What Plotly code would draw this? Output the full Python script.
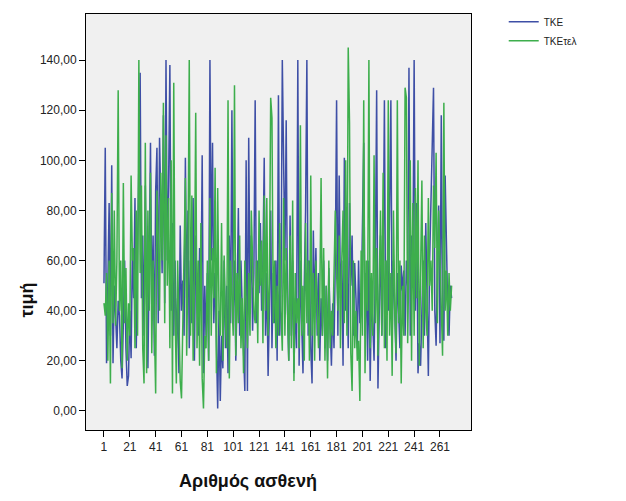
import plotly.graph_objects as go

tke = [
    51, 105, 19, 45, 83, 30, 98, 19, 50, 38,
    25, 44, 38, 20, 13, 35, 60, 25, 10, 14,
    40, 21, 65, 45, 85, 25, 60, 100, 135, 45,
    70, 30, 90, 45, 17, 60, 107, 40, 70, 22,
    88, 105, 35, 109, 75, 55, 118, 43, 140, 60,
    90, 138, 40, 75, 30, 60, 25, 45, 15, 74,
    40, 52, 30, 101, 45, 80, 25, 60, 35, 85,
    20, 70, 45, 30, 65, 40, 102, 15, 50, 30,
    55, 20, 140, 60, 107, 35, 55, 20, 1, 40,
    4, 30, 17, 60, 25, 50, 15, 70, 35, 120,
    40, 60, 20, 45, 81, 30, 60, 40, 25, 8,
    100, 8, 109, 45, 70, 32, 55, 124, 35, 60,
    47, 75, 40, 60, 101, 30, 55, 14, 40, 80,
    25, 55, 35, 60, 20, 126, 30, 50, 140, 105,
    60, 116, 40, 20, 78, 30, 60, 15, 45, 25,
    140, 18, 60, 35, 15, 50, 80, 140, 30, 60,
    25, 11, 72, 40, 65, 30, 55, 20, 45, 30,
    60, 25, 50, 20, 57, 35, 18, 43, 25, 60,
    124, 30, 94, 45, 60, 18, 101, 40, 60, 25,
    83, 50, 70, 30, 59, 45, 25, 60, 35, 40,
    80, 107, 30, 55, 20, 60, 12, 45, 35, 20,
    60, 128, 9, 50, 70, 30, 55, 124, 25, 60,
    40, 80, 124, 30, 60, 40, 20, 55, 35, 25,
    58, 48, 56, 30, 60, 50, 137, 30, 70, 55,
    140, 40, 83, 15, 27, 18, 40, 60, 30, 75,
    45, 14, 60, 80, 100, 129, 40, 26, 60, 82,
    27, 118, 40, 28, 94, 60, 40, 30, 50, 45,
]

tke_tel = [
    43, 38, 55, 20, 60, 11, 87, 35, 80, 34,
    60, 128, 40, 60, 17, 91, 35, 57, 20, 43,
    30, 94, 60, 65, 25, 80, 30, 140, 55, 90,
    25, 11, 107, 15, 80, 40, 95, 23, 60, 25,
    7, 88, 70, 40, 95, 60, 123, 35, 110, 50,
    85, 25, 100, 7, 131, 40, 11, 60, 30, 12,
    5, 40, 55, 93, 22, 60, 140, 30, 86, 20,
    50, 119, 25, 60, 18, 75, 13, 1, 30, 25,
    60, 20, 85, 30, 65, 45, 97, 15, 89, 40,
    30, 75, 20, 62, 35, 25, 124, 13, 60, 40,
    30, 130, 22, 55, 35, 70, 25, 45, 15, 60,
    38, 25, 55, 30, 80, 55, 40, 35, 60, 27,
    80, 50, 68, 27, 86, 40, 85, 30, 50, 125,
    117, 35, 60, 25, 50, 30, 75, 40, 24, 85,
    30, 65, 45, 20, 70, 25, 84, 12, 55, 35,
    45, 25, 114, 30, 50, 20, 75, 35, 60, 20,
    94, 30, 55, 20, 60, 40, 25, 45, 93, 30,
    65, 20, 50, 13, 60, 25, 40, 30, 63, 80,
    55, 40, 70, 25, 60, 80, 35, 100, 30, 145,
    115, 23, 8, 60, 25, 40, 20, 28, 4, 64,
    30, 124, 15, 60, 40, 140, 25, 55, 30, 102,
    35, 65, 22, 45, 80, 30, 95, 25, 60, 20,
    124, 30, 55, 14, 80, 40, 23, 124, 35, 60,
    11, 50, 30, 129, 125, 27, 60, 100, 20, 83,
    30, 89, 45, 100, 18, 60, 92, 25, 70, 40,
    30, 85, 50, 60, 40, 90, 65, 103, 35, 80,
    60, 48, 22, 123, 40, 56, 30, 55, 40, 50,
]

patients = list(range(1, len(tke) + 1))
x_ticks = list(range(1, 262, 20))
y_ticks = [0, 20, 40, 60, 80, 100, 120, 140]
y_tick_labels = [f"{v},00" for v in y_ticks]

fig = go.Figure()
fig.add_trace(go.Scatter(x=patients, y=tke, mode="lines", name="TKE",
                         line=dict(color="#3E4FA6", width=1.5)))
fig.add_trace(go.Scatter(x=patients, y=tke_tel, mode="lines", name="TKEτελ",
                         line=dict(color="#3DAE4C", width=1.5)))

font_family = "Liberation Sans, Arial, sans-serif"
fig.update_layout(
    width=626, height=501,
    margin=dict(l=86, r=155, t=14, b=71, autoexpand=False),
    paper_bgcolor="white",
    plot_bgcolor="#F0F0F0",
    font=dict(family=font_family, size=12, color="#222222"),
    showlegend=True,
    legend=dict(x=1.085, y=1.016, xanchor="left", yanchor="top",
                font=dict(size=10, color="#222222"),
                bgcolor="rgba(0,0,0,0)", tracegroupgap=0, itemwidth=30),
    xaxis=dict(range=[-12.9, 285], tickvals=x_ticks, ticks="outside", ticklen=6,
               tickcolor="black", showgrid=False, zeroline=False,
               showline=True, linecolor="black", linewidth=1, mirror=True,
               tickfont=dict(size=12, color="#222222")),
    yaxis=dict(range=[-7.6, 158.4], tickvals=y_ticks, ticktext=y_tick_labels,
               ticks="outside", ticklen=6, tickcolor="black", showgrid=False,
               zeroline=False, showline=True, linecolor="black", linewidth=1,
               mirror=True, tickfont=dict(size=12, color="#222222")),
    annotations=[
        dict(text="<b>Αριθμός ασθενή</b>", xref="paper", yref="paper",
             x=0.42, y=-0.1226, xanchor="center", yanchor="middle",
             showarrow=False, font=dict(size=18, color="#111111")),
        dict(text="<b>τιμή</b>", xref="paper", yref="paper",
             x=-0.152, y=0.3125, xanchor="center", yanchor="middle",
             textangle=-90, showarrow=False, font=dict(size=18, color="#111111")),
    ],
)

fig.write_html("out.html")
